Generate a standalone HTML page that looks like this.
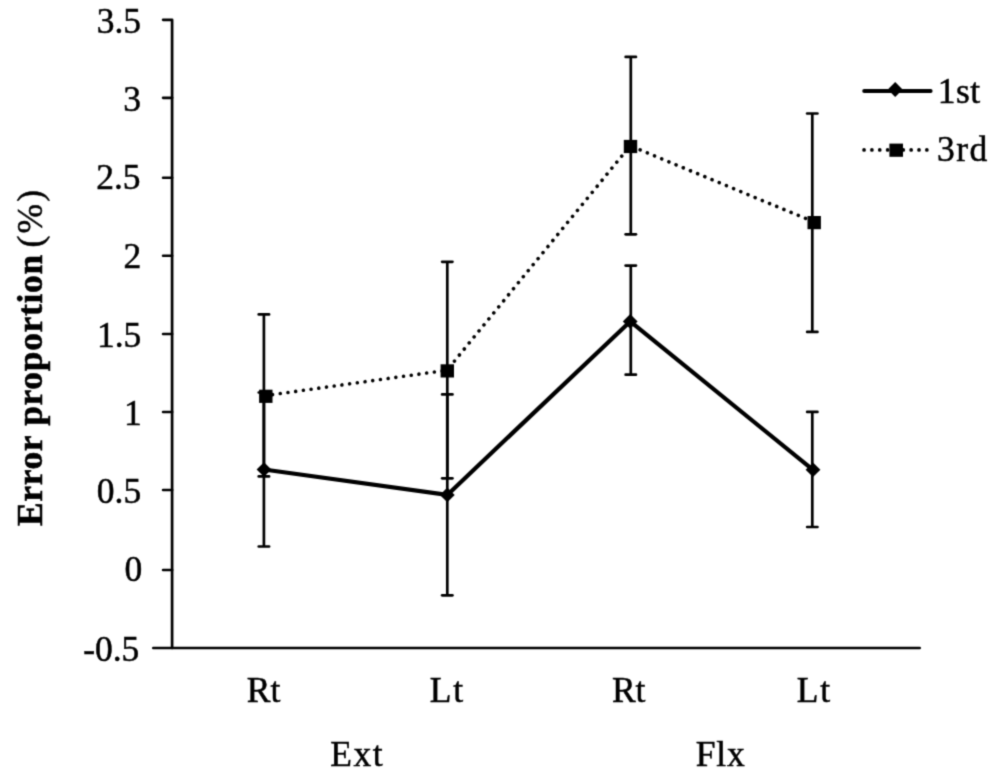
<!DOCTYPE html><html><head><meta charset="utf-8"><style>html,body{margin:0;padding:0;background:#fff;}svg{display:block}text{font-family:"Liberation Serif",serif;fill:#000;stroke:#000;stroke-width:0.5px}</style></head><body>
<svg width="1000" height="781" viewBox="0 0 1000 781">
<defs><filter id="bl" x="0" y="0" width="1000" height="781" filterUnits="userSpaceOnUse" color-interpolation-filters="sRGB"><feConvolveMatrix order="3" kernelMatrix="0.029 0.112 0.029 0.112 0.436 0.112 0.029 0.112 0.029" edgeMode="duplicate"/></filter></defs>
<g filter="url(#bl)">
<rect width="1000" height="781" fill="#fff"/>
<g stroke="#000" stroke-width="2.7" fill="none" stroke-linejoin="round" stroke-linecap="round">
<path d="M163.1 19.79H172.1V647.98"/>
<path d="M153.3 647.98H919.7"/>
<line x1="163.1" y1="97.87" x2="172.1" y2="97.87"/>
<line x1="163.1" y1="177.75" x2="172.1" y2="177.75"/>
<line x1="163.1" y1="255.77" x2="172.1" y2="255.77"/>
<line x1="163.1" y1="333.98" x2="172.1" y2="333.98"/>
<line x1="163.1" y1="411.99" x2="172.1" y2="411.99"/>
<line x1="163.1" y1="490.02" x2="172.1" y2="490.02"/>
<line x1="163.1" y1="569.98" x2="172.1" y2="569.98"/>
</g>
<g font-size="35.5" text-anchor="end">
<text x="141.00" y="32.60">3.5</text>
<text x="140.95" y="110.53">3</text>
<text x="140.50" y="189.15">2.5</text>
<text x="141.35" y="268.47">2</text>
<text x="141.30" y="346.55">1.5</text>
<text x="141.65" y="424.62">1</text>
<text x="141.15" y="503.15">0.5</text>
<text x="142.20" y="580.68">0</text>
<text x="139.35" y="660.90">-0.5</text>
</g>
<g font-size="35.5" text-anchor="middle" lengthAdjust="spacing">
<text x="263.5" y="701.5">Rt</text>
<text x="446.4" y="701.5" textLength="33.5">Lt</text>
<text x="628.7" y="701.5">Rt</text>
<text x="813.45" y="701.5" textLength="33.5">Lt</text>
<text x="356.4" y="765.8" textLength="52.3" lengthAdjust="spacing">Ext</text>
<text x="720.2" y="765.8" textLength="48.9" lengthAdjust="spacing">Flx</text>
</g>
<g transform="translate(42.3,0) rotate(-90)" font-size="35.5">
<text x="-526.1" y="0" font-weight="bold" textLength="271.3" lengthAdjust="spacing">Error proportion</text>
<text x="-247.5" y="0" textLength="57.5" lengthAdjust="spacing">(%)</text>
</g>
<g stroke="#000" stroke-width="2.7" fill="none">
<line x1="263.9" y1="314.4" x2="263.9" y2="476.4"/>
<line x1="258.75" y1="314.4" x2="269.05" y2="314.4" stroke-linecap="round"/>
<line x1="258.75" y1="476.4" x2="269.05" y2="476.4" stroke-linecap="round"/>
<line x1="263.9" y1="392.5" x2="263.9" y2="546.5"/>
<line x1="258.75" y1="392.5" x2="269.05" y2="392.5" stroke-linecap="round"/>
<line x1="258.75" y1="546.5" x2="269.05" y2="546.5" stroke-linecap="round"/>
<line x1="447.3" y1="261.8" x2="447.3" y2="478.3"/>
<line x1="442.15" y1="261.8" x2="452.45" y2="261.8" stroke-linecap="round"/>
<line x1="442.15" y1="478.3" x2="452.45" y2="478.3" stroke-linecap="round"/>
<line x1="447.3" y1="394.4" x2="447.3" y2="595.3"/>
<line x1="442.15" y1="394.4" x2="452.45" y2="394.4" stroke-linecap="round"/>
<line x1="442.15" y1="595.3" x2="452.45" y2="595.3" stroke-linecap="round"/>
<line x1="630.8" y1="56.9" x2="630.8" y2="234.3"/>
<line x1="625.65" y1="56.9" x2="635.95" y2="56.9" stroke-linecap="round"/>
<line x1="625.65" y1="234.3" x2="635.95" y2="234.3" stroke-linecap="round"/>
<line x1="630.8" y1="265.6" x2="630.8" y2="374.7"/>
<line x1="625.65" y1="265.6" x2="635.95" y2="265.6" stroke-linecap="round"/>
<line x1="625.65" y1="374.7" x2="635.95" y2="374.7" stroke-linecap="round"/>
<line x1="812.3" y1="113.5" x2="812.3" y2="331.9"/>
<line x1="807.15" y1="113.5" x2="817.45" y2="113.5" stroke-linecap="round"/>
<line x1="807.15" y1="331.9" x2="817.45" y2="331.9" stroke-linecap="round"/>
<line x1="812.3" y1="411.9" x2="812.3" y2="527.0"/>
<line x1="807.15" y1="411.9" x2="817.45" y2="411.9" stroke-linecap="round"/>
<line x1="807.15" y1="527.0" x2="817.45" y2="527.0" stroke-linecap="round"/>
</g>
<line x1="265.5" y1="395.6" x2="447.0" y2="370.2" stroke="#000" stroke-width="3.6" stroke-dasharray="0.01 7.77" stroke-dashoffset="0.66" stroke-linecap="round"/>
<line x1="447.0" y1="370.2" x2="630.2" y2="145.8" stroke="#000" stroke-width="3.6" stroke-dasharray="0.01 7.77" stroke-dashoffset="3.74" stroke-linecap="round"/>
<line x1="630.2" y1="145.8" x2="813.9000000000001" y2="221.9" stroke="#000" stroke-width="3.6" stroke-dasharray="0.01 7.77" stroke-dashoffset="4.81" stroke-linecap="round"/>
<rect x="259.10" y="389.70" width="13.4" height="13.2" fill="#000"/>
<rect x="440.60" y="364.30" width="13.4" height="13.2" fill="#000"/>
<rect x="623.80" y="139.90" width="13.4" height="13.2" fill="#000"/>
<rect x="807.50" y="216.00" width="13.4" height="13.2" fill="#000"/>
<polyline points="264,469.5 447.3,494.9 630.2,321.4 813,469.8" fill="none" stroke="#000" stroke-width="4.2" stroke-linejoin="round"/>
<path d="M264 462.2L271.4 469.5L264 476.8L256.6 469.5Z" fill="#000"/>
<path d="M447.3 487.59999999999997L454.7 494.9L447.3 502.2L439.90000000000003 494.9Z" fill="#000"/>
<path d="M630.2 314.09999999999997L637.6 321.4L630.2 328.7L622.8000000000001 321.4Z" fill="#000"/>
<path d="M813 462.5L820.4 469.8L813 477.1L805.6 469.8Z" fill="#000"/>
<line x1="864.2" y1="91.1" x2="930.6" y2="91.1" stroke="#000" stroke-width="4" stroke-linecap="round"/>
<path d="M895.2 82L902.6 89.5L895.2 97L887.8 89.5Z" fill="#000"/>
<line x1="864.05" y1="149.9" x2="928" y2="149.9" stroke="#000" stroke-width="3.7" stroke-dasharray="0.01 7.84" stroke-linecap="round"/>
<rect x="889.4" y="143.6" width="13.6" height="13.2" fill="#000"/>
<g font-size="35.5" text-anchor="middle">
<text x="959" y="102.5" textLength="42.4" lengthAdjust="spacing">1st</text>
<text x="962.2" y="161" textLength="50.3" lengthAdjust="spacing">3rd</text>
</g>
</g></svg></body></html>
